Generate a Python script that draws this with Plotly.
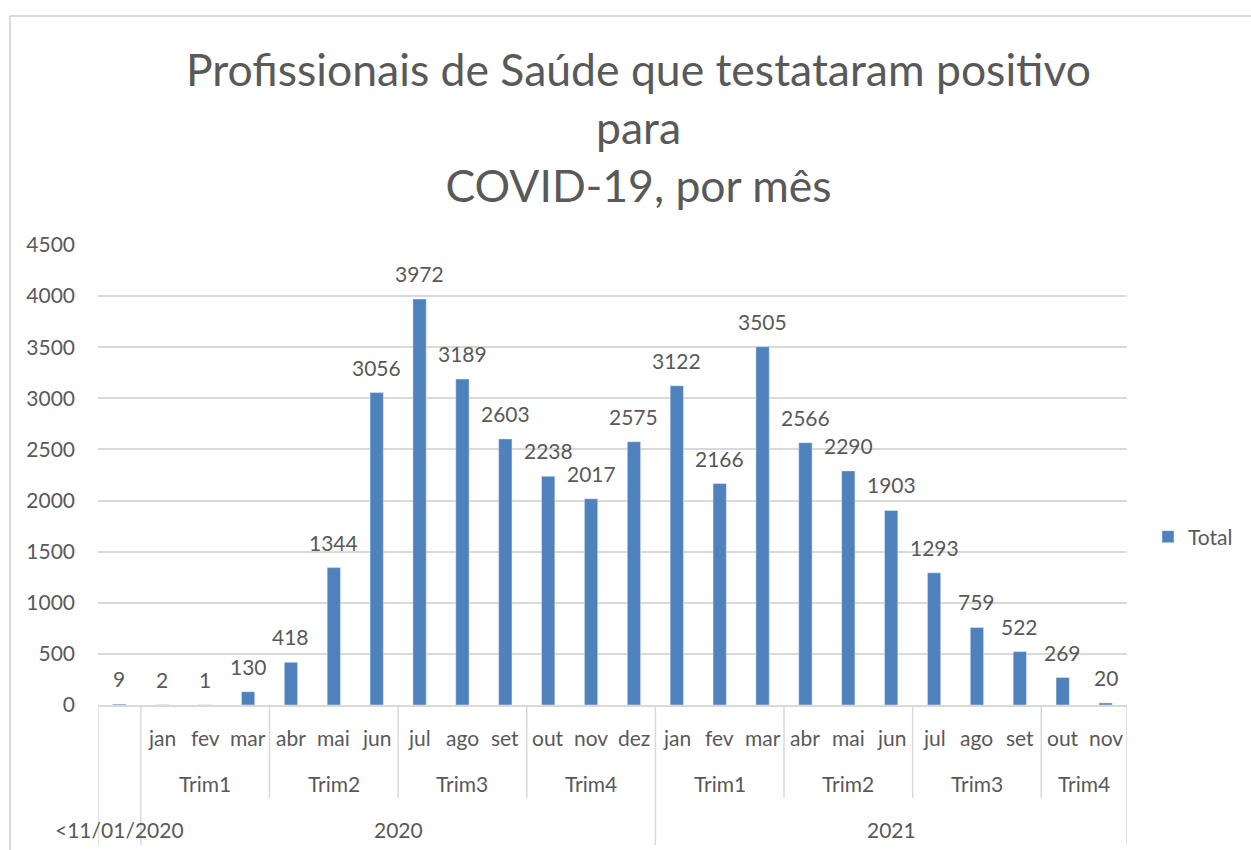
import plotly.graph_objects as go

# ---- data ----
months = ["", "jan", "fev", "mar", "abr", "mai", "jun", "jul", "ago", "set", "out", "nov", "dez",
          "jan", "fev", "mar", "abr", "mai", "jun", "jul", "ago", "set", "out", "nov"]
quarters = ["", "Trim1", "Trim1", "Trim1", "Trim2", "Trim2", "Trim2", "Trim3", "Trim3", "Trim3",
            "Trim4", "Trim4", "Trim4",
            "Trim1", "Trim1", "Trim1", "Trim2", "Trim2", "Trim2", "Trim3", "Trim3", "Trim3",
            "Trim4", "Trim4"]
years = ["<11/01/2020"] + ["2020"] * 12 + ["2021"] * 11
values = [9, 2, 1, 130, 418, 1344, 3056, 3972, 3189, 2603, 2238, 2017, 2575,
          3122, 2166, 3505, 2566, 2290, 1903, 1293, 759, 522, 269, 20]
series_name = "Total"
title_text = "Profissionais de Saúde que testataram positivo<br>para<br>COVID-19, por mês"

FONT = "Lato"
TXT = "#595959"
GRID = "#d9d9d9"
BAR = "#4f81bd"

W, H = 1251, 850
L, R, T, B = 98, 124, 245, 145
plot_h = H - T - B
pw = W - L - R

def py(pix):
    return (H - B - pix) / plot_h

def px(pix):
    return (pix - L) / pw

n = len(values)
xs = list(range(n))

fig = go.Figure()
fig.add_trace(go.Bar(x=xs, y=values, name=series_name, marker_color=BAR, width=0.31,
                     showlegend=True))

ann = []
# data labels
for x, v in zip(xs, values):
    ann.append(dict(x=x, y=v, xref="x", yref="y", text=str(v), showarrow=False,
                    xanchor="center", yanchor="bottom", yshift=11,
                    font=dict(family=FONT, size=21, color=TXT)))

def groups(labels):
    out = []
    start = 0
    for i in range(1, n + 1):
        if i == n or labels[i] != labels[start] or years[i] != years[start]:
            out.append((labels[start], start, i - 1))
            start = i
    return out

month_y = py(737)
quarter_y = py(783)
year_y = py(829)

def lab(x, y, text, xref="x"):
    return dict(x=x, y=y, xref=xref, yref="paper", text=text, showarrow=False,
                xanchor="center", yanchor="middle", font=dict(family=FONT, size=21, color=TXT))

for x, m in zip(xs, months):
    if m:
        ann.append(lab(x, month_y, m))
for t, s, e in groups(quarters):
    if t:
        ann.append(lab((s + e) / 2, quarter_y, t))
for t, s, e in groups(years):
    ann.append(lab((s + e) / 2, year_y, t))

# title
ann.append(dict(x=px(638), y=py(126), xref="paper", yref="paper", text=title_text,
                showarrow=False, align="center", xanchor="center", yanchor="middle",
                font=dict(family=FONT, size=44.5, color=TXT)))

shapes = []
full_b = [-0.5, 0.5, 12.5, 23.5]
trim_b = sorted(set([g[2] + 0.5 for g in groups(quarters)]) - set(full_b))
for xb in full_b:
    shapes.append(dict(type="line", xref="x", yref="paper", x0=xb, x1=xb, y0=0, y1=py(845),
                       line=dict(color=GRID, width=1.5)))
for xb in trim_b:
    shapes.append(dict(type="line", xref="x", yref="paper", x0=xb, x1=xb, y0=0, y1=py(798),
                       line=dict(color=GRID, width=1.5)))
# outer chart border
shapes.append(dict(type="line", xref="paper", yref="paper", x0=px(10), x1=px(10),
                   y0=py(16), y1=py(870), line=dict(color=GRID, width=2)))
shapes.append(dict(type="line", xref="paper", yref="paper", x0=px(10), x1=px(1270),
                   y0=py(16), y1=py(16), line=dict(color=GRID, width=2)))

fig.update_layout(
    width=W, height=H,
    margin=dict(l=L, r=R, t=T, b=B),
    plot_bgcolor="white", paper_bgcolor="white",
    font=dict(family=FONT, size=21, color=TXT),
    xaxis=dict(range=[-0.5, n - 0.5], showticklabels=False, showgrid=False, zeroline=False,
               showline=True, linecolor=GRID, linewidth=1.5, ticks=""),
    yaxis=dict(range=[0, 4500], dtick=500, tick0=0, showgrid=True, gridcolor=GRID, gridwidth=1.5,
               zeroline=False, showline=False, ticks="", ticklabelstandoff=22,
               tickfont=dict(family=FONT, size=21, color=TXT)),
    legend=dict(x=px(1148), y=py(537), xanchor="left", yanchor="middle", xref="paper",
                yref="paper", font=dict(family=FONT, size=21, color=TXT), itemwidth=30),
    annotations=ann, shapes=shapes,
)

fig.write_html("out.html", config={"displayModeBar": False},
               post_script="document.body.style.margin='0';document.body.style.overflow='hidden';")
